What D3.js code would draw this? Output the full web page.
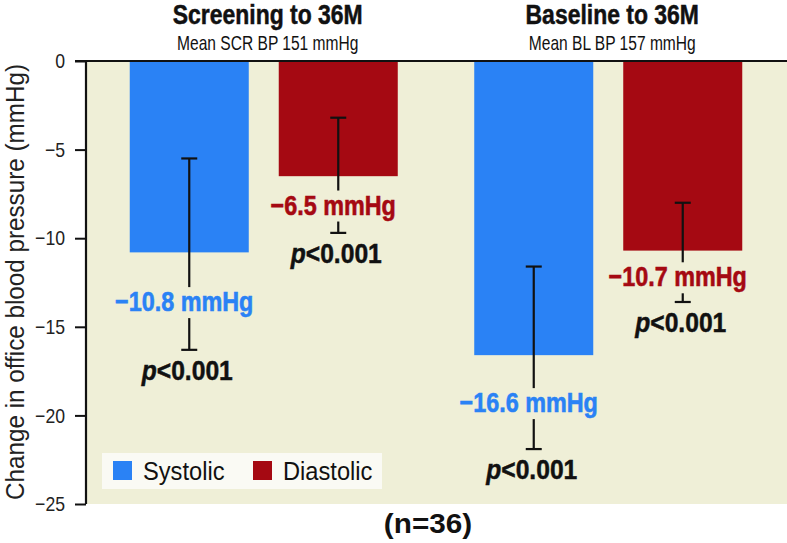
<!DOCTYPE html>
<html>
<head>
<meta charset="utf-8">
<script src="https://cdn.jsdelivr.net/npm/d3@7"></script>
<style>
  body { margin: 0; background: #fff; }
  svg { display: block; }
  text { font-family: "Liberation Sans", Arial, sans-serif; }
</style>
</head>
<body>
<svg id="chart" width="787" height="543"></svg>
<script>
// data
const groups = ["Screening to 36M", "Baseline to 36M"];
const subtitles = ["Mean SCR BP 151 mmHg", "Mean BL BP 157 mmHg"];
const series = ["Systolic", "Diastolic"];
const means = [[-10.8, -6.5], [-16.6, -10.7]];
const ciUpper = [[-5.5, -3.2], [-11.6, -8.0]];
const ciLower = [[-16.3, -9.7], [-21.9, -13.6]];
const pLabels = [["<0.001", "<0.001"], ["<0.001", "<0.001"]];
const yTicks = [0, -5, -10, -15, -20, -25];

const colors = { Systolic: "#2a82f5", Diastolic: "#a50912" };
const bg = "#efefd7";

const svg = d3.select("#chart");
const plotLeft = 86, plotRight = 787, plotTop = 61, plotBottom = 504;

// condensed text: no narrow font installed, so squeeze horizontally
function ctext(x, y, f) {
  return svg.append("g")
    .attr("transform", "translate(" + x + "," + y + ") scale(" + f + ",1)")
    .append("text");
}

const y = d3.scaleLinear().domain([-25, 0]).range([plotBottom, plotTop]);
const x0 = d3.scaleBand().domain(groups).range([91.5, 780.5]);
const x1 = d3.scaleBand().domain(series).range([0, x0.bandwidth()])
  .paddingInner(0.2013).paddingOuter(0.2567);

// plot background
svg.append("rect")
  .attr("x", plotLeft).attr("y", plotTop)
  .attr("width", plotRight - plotLeft).attr("height", plotBottom - plotTop)
  .attr("fill", bg);

let rows = [];
groups.forEach((g, gi) => {
  series.forEach((s, si) => {
    rows.push({ group: g, series: s, mean: means[gi][si], hi: ciUpper[gi][si], lo: ciLower[gi][si], p: pLabels[gi][si] });
  });
});

svg.selectAll(".bar").data(rows).enter().append("rect")
  .attr("class", "bar")
  .attr("x", d => x0(d.group) + x1(d.series))
  .attr("y", y(0))
  .attr("width", x1.bandwidth())
  .attr("height", d => y(d.mean) - y(0))
  .attr("fill", d => colors[d.series]);

// error bars, broken around the value label
const capW = 8;
rows.forEach(d => {
  const cx = x0(d.group) + x1(d.series) + x1.bandwidth() / 2;
  const yHi = y(d.hi), yLo = y(d.lo);
  const mid = (y(d.mean) + yLo) / 2;
  const g = svg.append("g").attr("stroke", "#111").attr("stroke-width", 2.2);
  g.append("line").attr("x1", cx).attr("x2", cx).attr("y1", yHi).attr("y2", mid - 14);
  g.append("line").attr("x1", cx).attr("x2", cx).attr("y1", mid + 17).attr("y2", yLo);
  g.append("line").attr("x1", cx - capW).attr("x2", cx + capW).attr("y1", yHi).attr("y2", yHi);
  g.append("line").attr("x1", cx - capW).attr("x2", cx + capW).attr("y1", yLo).attr("y2", yLo);

  ctext(cx - 5, mid + 10, 0.82)
    .attr("text-anchor", "middle")
    .attr("font-size", 28.5).attr("font-weight", "bold")
    .attr("fill", colors[d.series])
    .attr("stroke", colors[d.series]).attr("stroke-width", 0.6)
    .text("\u2212" + Math.abs(d.mean).toFixed(1) + " mmHg");

  const pt = ctext(cx - 2, yLo + 30, 0.88)
    .attr("text-anchor", "middle")
    .attr("font-size", 28).attr("font-weight", "bold")
    .attr("fill", "#111")
    .attr("stroke", "#111").attr("stroke-width", 0.5);
  pt.append("tspan").attr("font-style", "italic").text("p");
  pt.append("tspan").text(d.p);
});

// axes
const yAxis = svg.append("g")
  .attr("transform", "translate(" + plotLeft + ",0)")
  .call(d3.axisLeft(y).tickValues(yTicks).tickSize(11).tickPadding(10));
yAxis.select(".domain").remove();
yAxis.selectAll(".tick line").attr("stroke", "#111").attr("stroke-width", 2);
yAxis.selectAll(".tick text")
  .attr("font-family", "Liberation Sans, Arial, sans-serif")
  .attr("font-size", 21)
  .attr("fill", "#222")
  .each(function () {
    const len = this.getComputedTextLength();
    d3.select(this).attr("textLength", len * 0.84).attr("lengthAdjust", "spacingAndGlyphs");
  });

svg.append("line")
  .attr("x1", plotLeft).attr("x2", plotLeft)
  .attr("y1", plotTop - 1).attr("y2", plotBottom)
  .attr("stroke", "#111").attr("stroke-width", 2.2);
svg.append("line")
  .attr("x1", plotLeft - 11).attr("x2", plotRight)
  .attr("y1", plotTop).attr("y2", plotTop)
  .attr("stroke", "#111").attr("stroke-width", 2.2);

// y-axis title
svg.append("g")
  .attr("transform", "translate(24,282) rotate(-90) scale(0.97,1)")
  .append("text")
  .attr("text-anchor", "middle")
  .attr("font-size", 25)
  .attr("fill", "#222")
  .text("Change in office blood pressure (mmHg)");

// group titles
groups.forEach((g, gi) => {
  const cx = x0(g) + x0.bandwidth() / 2 + 4;
  ctext(cx, 24, 0.85)
    .attr("text-anchor", "middle")
    .attr("font-size", 27).attr("font-weight", "bold")
    .attr("fill", "#111")
    .attr("stroke", "#111").attr("stroke-width", 0.5)
    .text(g);
  ctext(cx, 50, 0.76)
    .attr("text-anchor", "middle")
    .attr("font-size", 20.5)
    .attr("fill", "#111")
    .text(subtitles[gi]);
});

// legend
const legend = svg.append("g").attr("transform", "translate(102,453)");
legend.append("rect").attr("width", 280).attr("height", 36).attr("fill", "#fafaf4");
const legX = [11, 151];
series.forEach((s, i) => {
  legend.append("rect")
    .attr("x", legX[i]).attr("y", 8)
    .attr("width", 19).attr("height", 19)
    .attr("fill", colors[s]);
  legend.append("g")
    .attr("transform", "translate(" + (legX[i] + 30) + ",27) scale(0.91,1)")
    .append("text")
    .attr("font-size", 26)
    .attr("fill", "#111")
    .text(s);
});

// sample size
ctext(428, 533, 1.1)
  .attr("text-anchor", "middle")
  .attr("font-size", 27).attr("font-weight", "bold")
  .attr("fill", "#111")
  .text("(n=36)");
</script>
</body>
</html>
